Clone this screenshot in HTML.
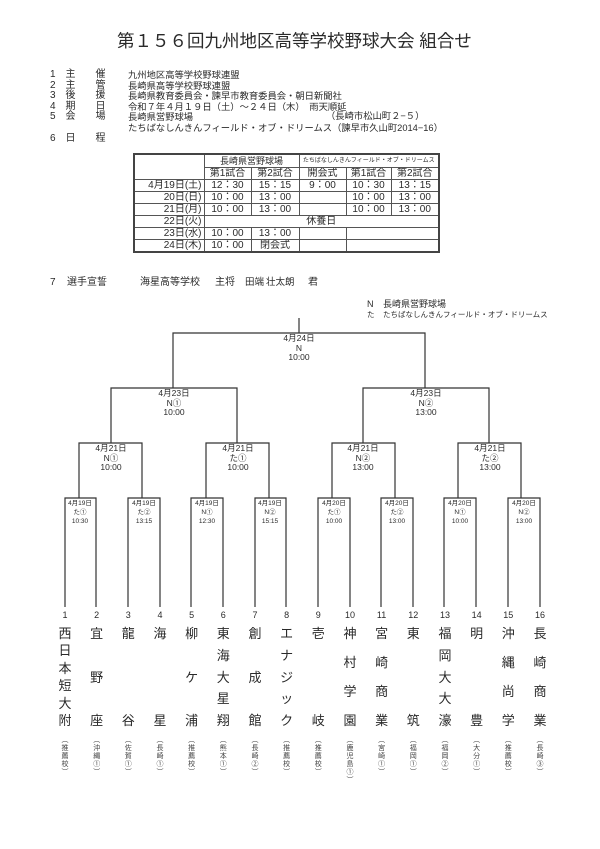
<!DOCTYPE html>
<html><head><meta charset="utf-8"><style>
body{margin:0;width:600px;height:849px;background:#fff;position:relative;overflow:hidden;font-family:"Liberation Sans","Noto Sans CJK JP",sans-serif;color:#2a2a2a}
.a{position:absolute;white-space:nowrap;line-height:1}
.t{font-size:10px}
table{position:absolute;left:133px;top:153px;width:305px;table-layout:fixed;border-collapse:collapse;font-size:10px;border:2px solid #444}
td{border:1px solid #555;height:11px;padding:0 2px;line-height:11px;text-align:center;white-space:nowrap;overflow:hidden}
.bl{font-size:8.5px;text-align:center;transform:translateX(-50%);line-height:9.5px}
.bs{font-size:6.5px;text-align:center;transform:translateX(-50%);line-height:9px}
.team{position:absolute;top:609px;width:20px;margin-left:-10px;text-align:center}
.num{font-size:9px;height:12px;line-height:12px}
.nm{height:100px;display:flex;flex-direction:column;justify-content:space-between;font-size:13px;line-height:13px;margin-top:6px}
.pr{font-size:7px;line-height:8px;margin-top:10px;color:#444}
</style></head><body>
<div class="a" style="left:117px;top:33px;font-size:17.5px;">第１５６回九州地区高等学校野球大会 組合せ</div>

<div class="a t" style="left:50px;top:70px;line-height:10.6px;white-space:pre">1　主　　催
2　主　　管
3　後　　援
4　期　　日
5　会　　場

6　日　　程</div>
<div class="a" style="left:128px;top:70px;font-size:9.3px;line-height:10.6px;white-space:pre">九州地区高等学校野球連盟
長崎県高等学校野球連盟
長崎県教育委員会・諫早市教育委員会・朝日新聞社
令和７年４月１９日（土）～２４日（木）　雨天順延
長崎県営野球場
たちばなしんきんフィールド・オブ・ドリームス（諫早市久山町2014−16）</div>
<div class="a" style="left:326px;top:112.4px;font-size:9.3px">（長崎市松山町２−５）</div>

<table>
<colgroup><col style="width:70px"><col style="width:47px"><col style="width:48px"><col style="width:47px"><col style="width:45px"><col style="width:48px"></colgroup>
<tr><td rowspan="2" style="height:24px"></td><td colspan="2" style="font-size:9px;height:12px">長崎県営野球場</td><td colspan="3" style="font-size:6px;padding:0">たちばなしんきんフィールド・オブ・ドリームス</td></tr>
<tr><td>第1試合</td><td>第2試合</td><td>開会式</td><td>第1試合</td><td>第2試合</td></tr>
<tr><td style="text-align:right">4月19日(土)</td><td>12：30</td><td>15：15</td><td>9：00</td><td>10：30</td><td>13：15</td></tr>
<tr><td style="text-align:right">20日(日)</td><td>10：00</td><td>13：00</td><td></td><td>10：00</td><td>13：00</td></tr>
<tr><td style="text-align:right">21日(月)</td><td>10：00</td><td>13：00</td><td></td><td>10：00</td><td>13：00</td></tr>
<tr><td style="text-align:right">22日(火)</td><td colspan="5">休養日</td></tr>
<tr><td style="text-align:right">23日(水)</td><td>10：00</td><td>13：00</td><td></td><td colspan="2"></td></tr>
<tr><td style="text-align:right">24日(木)</td><td>10：00</td><td>閉会式</td><td></td><td colspan="2"></td></tr>
</table>

<div class="a t" style="left:50px;top:278px">7</div>
<div class="a t" style="left:67px;top:278px">選手宣誓</div>
<div class="a t" style="left:140px;top:278px">海星高等学校</div>
<div class="a t" style="left:215px;top:278px">主将</div>
<div class="a t" style="left:245px;top:278px;font-size:9.5px">田端</div>
<div class="a t" style="left:266px;top:278px;font-size:9.5px">壮太朗</div>
<div class="a t" style="left:308px;top:278px">君</div>

<div class="a" style="left:367px;top:300px;font-size:9px">N</div>
<div class="a" style="left:383px;top:300px;font-size:9px">長崎県営野球場</div>
<div class="a" style="left:367px;top:311px;font-size:7.5px">た</div>
<div class="a" style="left:383px;top:311px;font-size:7.5px">たちばなしんきんフィールド・オブ・ドリームス</div>

<svg width="600" height="849" style="position:absolute;left:0;top:0" fill="none" stroke="#333" stroke-width="1.2">
<path d="M299 318V333M173 388V333H425V388"/>
<path d="M111 443V388H237V443"/>
<path d="M363 443V388H489V443"/>
<path d="M79 498V443H142V498M206 498V443H269V498M332 498V443H395V498M458 498V443H521V498"/>
<path d="M65 607V498H96V607M128 607V498H160V607M191 607V498H223V607M255 607V498H286V607M318 607V498H350V607M381 607V498H413V607M444 607V498H476V607M508 607V498H540V607"/>
</svg>

<div class="a bl" style="left:299px;top:334px">4月24日<br>N<br>10:00</div>
<div class="a bl" style="left:174px;top:389px">4月23日<br>N①<br>10:00</div>
<div class="a bl" style="left:426px;top:389px">4月23日<br>N②<br>13:00</div>
<div class="a bl" style="left:111px;top:444px">4月21日<br>N①<br>10:00</div>
<div class="a bl" style="left:238px;top:444px">4月21日<br>た①<br>10:00</div>
<div class="a bl" style="left:363px;top:444px">4月21日<br>N②<br>13:00</div>
<div class="a bl" style="left:490px;top:444px">4月21日<br>た②<br>13:00</div>

<div class="a bs" style="left:80px;top:499px">4月19日<br>た①<br>10:30</div>
<div class="a bs" style="left:144px;top:499px">4月19日<br>た②<br>13:15</div>
<div class="a bs" style="left:207px;top:499px">4月19日<br>N①<br>12:30</div>
<div class="a bs" style="left:270px;top:499px">4月19日<br>N②<br>15:15</div>
<div class="a bs" style="left:334px;top:499px">4月20日<br>た①<br>10:00</div>
<div class="a bs" style="left:397px;top:499px">4月20日<br>た②<br>13:00</div>
<div class="a bs" style="left:460px;top:499px">4月20日<br>N①<br>10:00</div>
<div class="a bs" style="left:524px;top:499px">4月20日<br>N②<br>13:00</div>

<div class="team" style="left:65px"><div class="num">1</div><div class="nm"><span>西</span><span>日</span><span>本</span><span>短</span><span>大</span><span>附</span></div><div class="pr">︵<br>推<br>薦<br>校<br>︶</div></div>
<div class="team" style="left:96.7px"><div class="num">2</div><div class="nm"><span>宜</span><span>野</span><span>座</span></div><div class="pr">︵<br>沖<br>縄<br>①<br>︶</div></div>
<div class="team" style="left:128.3px"><div class="num">3</div><div class="nm"><span>龍</span><span>谷</span></div><div class="pr">︵<br>佐<br>賀<br>①<br>︶</div></div>
<div class="team" style="left:160px"><div class="num">4</div><div class="nm"><span>海</span><span>星</span></div><div class="pr">︵<br>長<br>崎<br>①<br>︶</div></div>
<div class="team" style="left:191.6px"><div class="num">5</div><div class="nm"><span>柳</span><span>ケ</span><span>浦</span></div><div class="pr">︵<br>推<br>薦<br>校<br>︶</div></div>
<div class="team" style="left:223.3px"><div class="num">6</div><div class="nm"><span>東</span><span>海</span><span>大</span><span>星</span><span>翔</span></div><div class="pr">︵<br>熊<br>本<br>①<br>︶</div></div>
<div class="team" style="left:255px"><div class="num">7</div><div class="nm"><span>創</span><span>成</span><span>館</span></div><div class="pr">︵<br>長<br>崎<br>②<br>︶</div></div>
<div class="team" style="left:286.6px"><div class="num">8</div><div class="nm"><span>エ</span><span>ナ</span><span>ジ</span><span>ッ</span><span>ク</span></div><div class="pr">︵<br>推<br>薦<br>校<br>︶</div></div>
<div class="team" style="left:318.3px"><div class="num">9</div><div class="nm"><span>壱</span><span>岐</span></div><div class="pr">︵<br>推<br>薦<br>校<br>︶</div></div>
<div class="team" style="left:350px"><div class="num">10</div><div class="nm"><span>神</span><span>村</span><span>学</span><span>園</span></div><div class="pr">︵<br>鹿<br>児<br>島<br>①<br>︶</div></div>
<div class="team" style="left:381.6px"><div class="num">11</div><div class="nm"><span>宮</span><span>崎</span><span>商</span><span>業</span></div><div class="pr">︵<br>宮<br>崎<br>①<br>︶</div></div>
<div class="team" style="left:413.3px"><div class="num">12</div><div class="nm"><span>東</span><span>筑</span></div><div class="pr">︵<br>福<br>岡<br>①<br>︶</div></div>
<div class="team" style="left:445px"><div class="num">13</div><div class="nm"><span>福</span><span>岡</span><span>大</span><span>大</span><span>濠</span></div><div class="pr">︵<br>福<br>岡<br>②<br>︶</div></div>
<div class="team" style="left:476.6px"><div class="num">14</div><div class="nm"><span>明</span><span>豊</span></div><div class="pr">︵<br>大<br>分<br>①<br>︶</div></div>
<div class="team" style="left:508.3px"><div class="num">15</div><div class="nm"><span>沖</span><span>縄</span><span>尚</span><span>学</span></div><div class="pr">︵<br>推<br>薦<br>校<br>︶</div></div>
<div class="team" style="left:540px"><div class="num">16</div><div class="nm"><span>長</span><span>崎</span><span>商</span><span>業</span></div><div class="pr">︵<br>長<br>崎<br>③<br>︶</div></div>
</body></html>
